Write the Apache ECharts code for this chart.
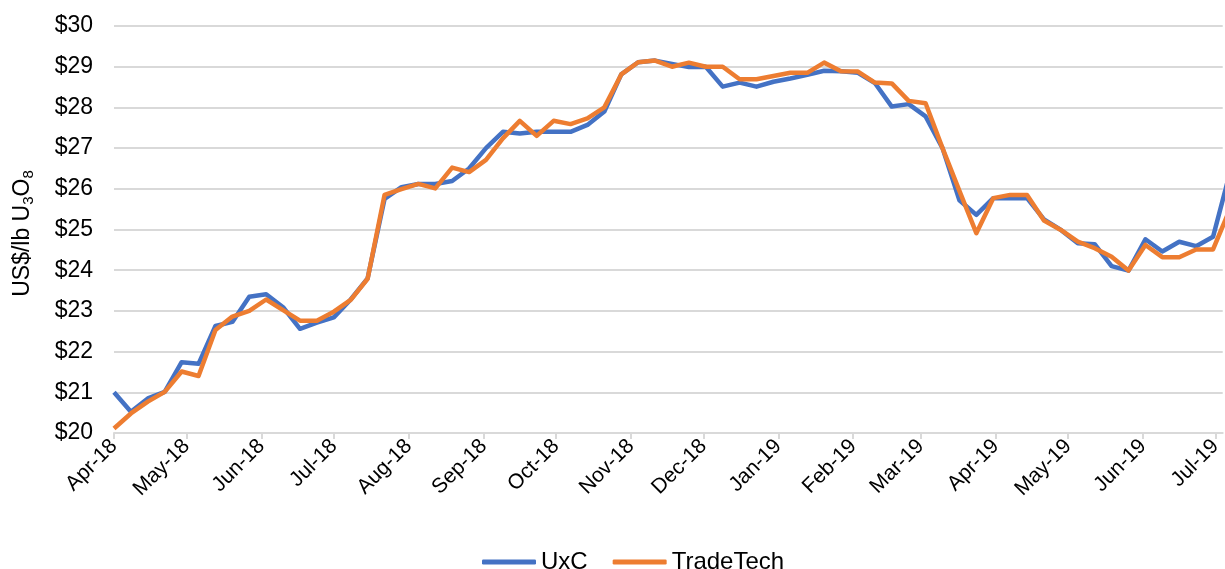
<!DOCTYPE html>
<html>
<head>
<meta charset="utf-8">
<script src="https://cdn.jsdelivr.net/npm/echarts@6/dist/echarts.min.js"></script>
<style>
html,body{margin:0;padding:0;background:#fff;}
#chart{width:1225px;height:569px;}
</style>
</head>
<body>
<div id="chart"></div>
<script>
const weeks = [
 '2018-04-01','2018-04-08','2018-04-15','2018-04-22','2018-04-29',
 '2018-05-06','2018-05-13','2018-05-20','2018-05-27',
 '2018-06-03','2018-06-10','2018-06-17','2018-06-24',
 '2018-07-01','2018-07-08','2018-07-15','2018-07-22','2018-07-29',
 '2018-08-05','2018-08-12','2018-08-19','2018-08-26',
 '2018-09-02','2018-09-09','2018-09-16','2018-09-23','2018-09-30',
 '2018-10-07','2018-10-14','2018-10-21','2018-10-28',
 '2018-11-04','2018-11-11','2018-11-18','2018-11-25',
 '2018-12-02','2018-12-09','2018-12-16','2018-12-23','2018-12-30',
 '2019-01-06','2019-01-13','2019-01-20','2019-01-27',
 '2019-02-03','2019-02-10','2019-02-17','2019-02-24',
 '2019-03-03','2019-03-10','2019-03-17','2019-03-24','2019-03-31',
 '2019-04-07','2019-04-14','2019-04-21','2019-04-28',
 '2019-05-05','2019-05-12','2019-05-19','2019-05-26',
 '2019-06-02','2019-06-09','2019-06-16','2019-06-23','2019-06-30',
 '2019-07-07'
];
const uxc = [
 21.00,20.52,20.85,21.01,21.74,
 21.70,22.63,22.73,23.35,
 23.41,23.09,22.56,22.71,
 22.84,23.28,23.80,25.75,26.04,
 26.12,26.12,26.19,26.50,
 27.00,27.40,27.36,27.40,27.40,
 27.40,27.57,27.90,28.81,
 29.11,29.15,29.07,28.99,
 29.00,28.51,28.61,28.51,28.63,
 28.71,28.80,28.90,28.89,
 28.85,28.60,28.02,28.08,
 27.78,27.00,25.72,25.36,25.77,
 25.77,25.77,25.25,24.99,
 24.66,24.64,24.10,23.99,
 24.76,24.46,24.70,24.59,24.82,
 26.40
];
const tradeTech = [
 20.11,20.48,20.77,21.01,21.51,
 21.40,22.53,22.86,23.00,
 23.28,23.02,22.76,22.76,
 22.98,23.27,23.79,25.85,25.99,
 26.12,26.01,26.52,26.41,
 26.71,27.24,27.67,27.30,27.67,
 27.59,27.73,28.00,28.81,
 29.11,29.15,29.00,29.10,
 29.00,29.00,28.69,28.69,28.77,
 28.85,28.85,29.10,28.89,
 28.88,28.61,28.59,28.16,
 28.10,27.00,25.95,24.91,25.77,
 25.85,25.85,25.22,24.99,
 24.70,24.54,24.33,23.99,
 24.62,24.32,24.32,24.51,24.51,
 25.50
];
const seriesNames = ['UxC','TradeTech'];
const yTicks = {min:20, max:30, step:1};
const xRange = {min:'2018-04-01', max:'2019-07-04'};

const font = 'Liberation Sans, Arial, sans-serif';
const chart = echarts.init(document.getElementById('chart'), null, {renderer:'canvas'});
chart.setOption({
  animation:false,
  backgroundColor:'#fff',
  grid:{left:114, right:0, top:26, bottom:136, containLabel:false},
  legend:{
    data:seriesNames, top:550, left:482, padding:0,
    icon:'roundRect', itemWidth:54, itemHeight:5, itemGap:25,
    textStyle:{fontFamily:font, fontSize:24, color:'#000'}
  },
  xAxis:{
    type:'time', min:xRange.min, max:xRange.max,
    minInterval:28*86400000, maxInterval:31*86400000,
    splitLine:{show:false},
    axisLine:{show:true, lineStyle:{color:'#d9d9d9', width:2}},
    axisTick:{show:true, length:6, lineStyle:{color:'#d9d9d9', width:2}},
    axisLabel:{
      formatter:'{MMM}-{yy}', rotate:45, margin:10,
      fontFamily:font, fontSize:21, color:'#000',
      showMaxLabel:false, hideOverlap:false
    }
  },
  yAxis:{
    type:'value', min:yTicks.min, max:yTicks.max, interval:yTicks.step,
    name:'{a|US$/lb U}{s|3}{a|O}{s|8}',
    nameLocation:'middle', nameGap:78, nameRotate:90,
    nameTextStyle:{
      padding:[0,8,0,0],
      rich:{
        a:{fontFamily:font, fontSize:23, color:'#000'},
        s:{fontFamily:font, fontSize:15, color:'#000', padding:[12,0,0,0]}
      }
    },
    axisLine:{show:false}, axisTick:{show:false},
    splitLine:{lineStyle:{color:'#d9d9d9', width:2}},
    axisLabel:{formatter:'${value}', margin:21, fontFamily:font, fontSize:23, color:'#000'}
  },
  series:[
    {name:seriesNames[0], type:'line', data:weeks.map((d,i)=>[d,uxc[i]]),
     showSymbol:false, symbol:'none', lineStyle:{color:'#4472C4', width:4.5, join:'round'},
     itemStyle:{color:'#4472C4'}, clip:true},
    {name:seriesNames[1], type:'line', data:weeks.map((d,i)=>[d,tradeTech[i]]),
     showSymbol:false, symbol:'none', lineStyle:{color:'#ED7D31', width:4.5, join:'round'},
     itemStyle:{color:'#ED7D31'}, clip:true}
  ]
});
</script>
</body>
</html>
